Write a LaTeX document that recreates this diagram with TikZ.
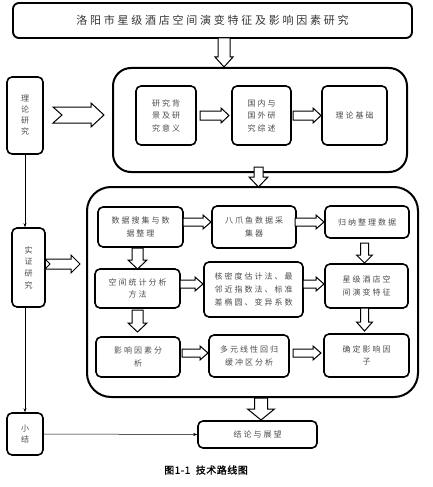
\documentclass[tikz,border=0pt]{standalone}
\usepackage{fontspec}
\newfontfamily\cjk[LetterSpace=25]{Noto Sans CJK SC}
\newfontfamily\capfont[FakeBold=1.2,LetterSpace=5]{Noto Sans CJK SC}
\usetikzlibrary{arrows.meta}
\tikzset{
  box/.style={draw, line width=1.6pt, rounded corners=5pt, inner sep=0pt, align=center,
    text=black!70, font=\cjk\fontsize{8}{12.5}\selectfont},
  side/.style={box, font=\cjk\fontsize{8}{11}\selectfont},
  group/.style={draw, line width=2pt, rounded corners=18pt, inner sep=0pt},
  fatline/.style={draw, line width=1pt, fill=white, line join=miter},
  link/.style={line width=0.5pt, -{Stealth[length=4pt,width=3pt]}},
}
% block arrow: start, angle, length, half shaft, half head, head length
\newcommand{\barrow}[6]{%
  \begin{scope}[shift={#1}, rotate=#2]
    \draw[fatline] (0,-#4) -- ({#3-#6},-#4) -- ({#3-#6},-#5) -- (#3,0)
      -- ({#3-#6},#5) -- ({#3-#6},#4) -- (0,#4) -- cycle;
  \end{scope}}
\begin{document}
\begin{tikzpicture}[x=1pt, y=-1pt]
    \useasboundingbox (0,0) rectangle (433,487);

    % 标题
    \node[box, minimum width=399pt, minimum height=35pt, rounded corners=6pt, line width=1.9pt,
      text=black!80, font=\cjk\fontsize{11}{11}\selectfont] (title) at (212.5,20.5)
      {洛阳市星级酒店空间演变特征及影响因素研究};

    % 左侧
    \node[side, minimum width=36pt, minimum height=77pt] (lilun) at (25,115.5) {理\\论\\研\\究};
    \node[side, minimum width=33pt, minimum height=79pt, font=\cjk\fontsize{8}{11.7}\selectfont]
      (shizheng) at (28.5,267.5) {实\\证\\研\\究};
    \node[side, minimum width=36pt, minimum height=42pt] (xiaojie) at (25,434) {小\\结};

    % 理论研究
    \node[group, minimum width=294pt, minimum height=104pt] (grp1) at (260,120) {};
    \node[box, minimum width=60pt, minimum height=59pt] (beijing) at (166,115.5) {研究背\\景及研\\究意义};
    \node[box, minimum width=59pt, minimum height=59pt] (zongshu) at (261.5,115.5) {国内与\\国外研\\究综述};
    \node[box, minimum width=65pt, minimum height=59pt] (jichu) at (354.5,115.5) {理论基础};

    % 实证研究
    \node[group, minimum width=331pt, minimum height=210pt, rounded corners=24pt] (grp2) at (252.5,292) {};
    \node[box, minimum width=85pt, minimum height=40pt] (shouji) at (140.5,227) {数据搜集与数\\据整理};
    \node[box, minimum width=84pt, minimum height=42pt] (bazhuayu) at (254,227) {八爪鱼数据采\\集器};
    \node[box, minimum width=84pt, minimum height=32pt] (guina) at (367,222) {归纳整理数据};
    \node[box, minimum width=85pt, minimum height=39pt] (kongjian) at (137.5,288.5) {空间统计分析\\方法};
    \node[box, minimum width=99pt, minimum height=55pt, font=\cjk\fontsize{8}{13.3}\selectfont]
      (hemidu) at (253.5,289.5) {核密度估计法、最\\邻近指数法、标准\\差椭圆、变异系数};
    \node[box, minimum width=83pt, minimum height=44pt] (tezheng) at (366.5,286) {星级酒店空\\间演变特征};
    \node[box, minimum width=84pt, minimum height=40pt] (yingxiang) at (138,357) {影响因素分\\析};
    \node[box, minimum width=80pt, minimum height=42pt] (huigui) at (249,356) {多元线性回归\\缓冲区分析};
    \node[box, minimum width=85pt, minimum height=43pt] (yinzi) at (366.5,355.5) {确定影响因\\子};

    % 结论
    \node[box, minimum width=119pt, minimum height=27pt] (jielun) at (257.5,434.5) {结论与展望};
    \node[font=\capfont\fontsize{10}{10}\selectfont] (caption) at (206,470) {图1-1\ \ 技术路线图};

    % 细线
    \draw[link] (lilun.south) -- (lilun.south |- shizheng.north);
    \draw[link] (shizheng.south -| xiaojie.north) -- (xiaojie.north);
    \draw[link] (xiaojie.east) -- (jielun.west);

    % 空心箭头
    \barrow{(224,38)}{-90}{29}{6}{9}{10}
    \barrow{(258.5,167)}{-90}{20}{4.5}{9.5}{10}
    \barrow{(261,398)}{-90}{22}{6.5}{13.5}{11}
    \barrow{(200,115.5)}{0}{29}{4.5}{7.5}{8}
    \barrow{(293,115.5)}{0}{28}{4.5}{7.5}{8}
    \barrow{(183,222)}{0}{28}{4}{7}{8}
    \barrow{(295,222)}{0}{29}{4}{7}{8}
    \barrow{(180,284)}{0}{23}{4}{7}{8}
    \barrow{(303,284)}{0}{21}{4}{7}{8}
    \barrow{(182,353)}{0}{26}{4}{7}{8}
    \barrow{(293,353)}{0}{28}{4}{7}{8}
    \barrow{(137.5,248)}{-90}{21}{5.5}{9.5}{9}
    \barrow{(364.5,243)}{-90}{20}{4}{8}{8}
    \barrow{(137.5,310)}{-90}{22}{5.5}{9.5}{9}
    \barrow{(364.5,308)}{-90}{23}{4}{8}{9}

    % 燕尾箭头
    \draw[fatline] (53,107) -- (91,107) -- (91,103) -- (104,115) -- (91,127) -- (91,123) -- (53,123) -- (62,115) -- cycle;
    \draw[fatline] (45,259) -- (71,259) -- (71,255) -- (80,264) -- (71,273) -- (71,269) -- (45,269) -- (50,264) -- cycle;
\end{tikzpicture}
\end{document}
